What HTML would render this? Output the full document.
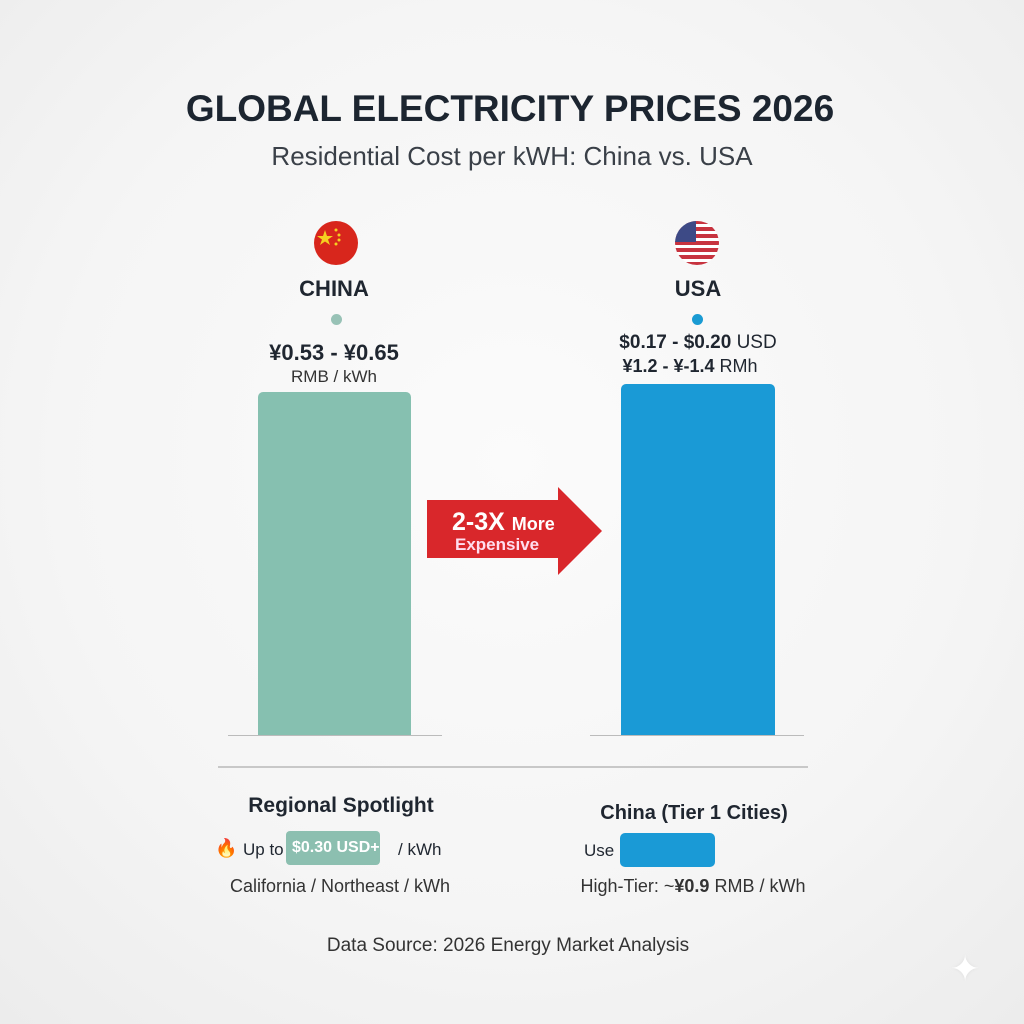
<!DOCTYPE html>
<html><head><meta charset="utf-8"><style>
body{margin:0;width:1024px;height:1024px;position:relative;overflow:hidden;font-family:"Liberation Sans",sans-serif;color:#1f2630;
background:radial-gradient(circle at 50% 45%,#fbfbfb 0%,#f5f5f5 60%,#ececec 100%);}
.a{position:absolute;white-space:nowrap}
.c{transform:translateX(-50%)}
</style></head><body>
<div class="a c" style="left:510px;top:88px;font-size:37px;font-weight:bold;letter-spacing:0px;color:#1c2530">GLOBAL ELECTRICITY PRICES 2026</div>
<div class="a c" style="left:512px;top:141px;font-size:26px;color:#3a4048">Residential Cost per kWH: China vs. USA</div>

<svg class="a" style="left:313px;top:220px" width="46" height="46" viewBox="0 0 46 46">
<circle cx="23" cy="23" r="22" fill="#d8261c"/>
<polygon points="12,10 14,16 20,16 15,19.5 17,25 12,21.5 7,25 9,19.5 4,16 10,16" fill="#f5d020"/>
<circle cx="23" cy="10" r="1.5" fill="#f5d020"/><circle cx="26" cy="15" r="1.5" fill="#f5d020"/><circle cx="26" cy="20" r="1.5" fill="#f5d020"/><circle cx="23" cy="24" r="1.5" fill="#f5d020"/>
</svg>
<svg class="a" style="left:674px;top:220px" width="46" height="46" viewBox="0 0 46 46">
<defs><clipPath id="cp"><circle cx="23" cy="23" r="22"/></clipPath></defs>
<g clip-path="url(#cp)"><rect width="46" height="46" fill="#fff"/>
<rect y="0" width="46" height="4" fill="#c7333f"/><rect y="7" width="46" height="4" fill="#c7333f"/><rect y="14" width="46" height="4" fill="#c7333f"/><rect y="21" width="46" height="4" fill="#c7333f"/><rect y="28" width="46" height="4" fill="#c7333f"/><rect y="35" width="46" height="4" fill="#c7333f"/><rect y="42" width="46" height="4" fill="#c7333f"/>
<rect width="22" height="22" fill="#3d4a86"/></g></svg>

<div class="a c" style="left:334px;top:276px;font-size:22px;font-weight:bold">CHINA</div>
<div class="a c" style="left:698px;top:276px;font-size:22px;font-weight:bold">USA</div>
<div class="a" style="left:331px;top:314px;width:11px;height:11px;border-radius:50%;background:#98c2b6"></div>
<div class="a" style="left:692px;top:314px;width:11px;height:11px;border-radius:50%;background:#1a9bd3"></div>
<div class="a c" style="left:334px;top:340px;font-size:22px;font-weight:bold">¥0.53 - ¥0.65</div>
<div class="a c" style="left:334px;top:367px;font-size:17px;color:#333">RMB / kWh</div>
<div class="a c" style="left:698px;top:332px;font-size:19px"><b>$0.17 - $0.20</b> USD</div>
<div class="a c" style="left:690px;top:356px;font-size:18px"><b>¥1.2 - ¥-1.4</b> RMh</div>

<div class="a" style="left:258px;top:392px;width:153px;height:344px;background:#86c0b0;border-radius:5px 5px 0 0"></div>
<div class="a" style="left:621px;top:384px;width:154px;height:352px;background:#1a9ad6;border-radius:5px 5px 0 0"></div>
<div class="a" style="left:228px;top:735px;width:214px;height:1px;background:#bbb"></div>
<div class="a" style="left:590px;top:735px;width:214px;height:1px;background:#bbb"></div>
<div class="a" style="left:218px;top:766px;width:590px;height:2px;background:#c8c8c8"></div>

<svg class="a" style="left:426px;top:486px" width="178" height="90" viewBox="0 0 178 90">
<polygon points="1,14 132,14 132,1 176,45 132,89 132,72 1,72" fill="#d9272b"/>
</svg>
<div class="a" style="left:452px;top:508px;font-size:25px;font-weight:bold;color:#fff">2-3X <span style="font-size:18px">More</span></div>
<div class="a" style="left:455px;top:535px;font-size:17px;font-weight:bold;color:#fde">Expensive</div>

<div class="a c" style="left:341px;top:794px;font-size:21px;font-weight:bold">Regional Spotlight</div>
<div class="a" style="left:215px;top:838px;font-size:18px">🔥</div>
<div class="a" style="left:243px;top:840px;font-size:17px">Up to</div>
<div class="a" style="left:286px;top:831px;width:94px;height:34px;border-radius:4px;background:#8cbfb0;color:#fff;font-size:16px;font-weight:bold;line-height:34px;padding-left:6px;box-sizing:border-box">$0.30 USD+</div>
<div class="a" style="left:398px;top:840px;font-size:17px">/ kWh</div>
<div class="a c" style="left:340px;top:876px;font-size:18px;color:#333">California / Northeast / kWh</div>

<div class="a c" style="left:694px;top:802px;font-size:20px;font-weight:bold">China (Tier 1 Cities)</div>
<div class="a" style="left:584px;top:841px;font-size:17px">Use</div>
<div class="a" style="left:620px;top:833px;width:95px;height:34px;border-radius:5px;background:#1a9ad6"></div>
<div class="a c" style="left:693px;top:876px;font-size:18px;color:#333">High-Tier: ~<b>¥0.9</b> RMB / kWh</div>

<div class="a c" style="left:508px;top:935px;font-size:19px;color:#333">Data Source: 2026 Energy Market Analysis</div>
<div class="a" style="left:950px;top:948px;font-size:36px;color:#fff;text-shadow:0 0 3px #ddd">✦</div>
</body></html>
